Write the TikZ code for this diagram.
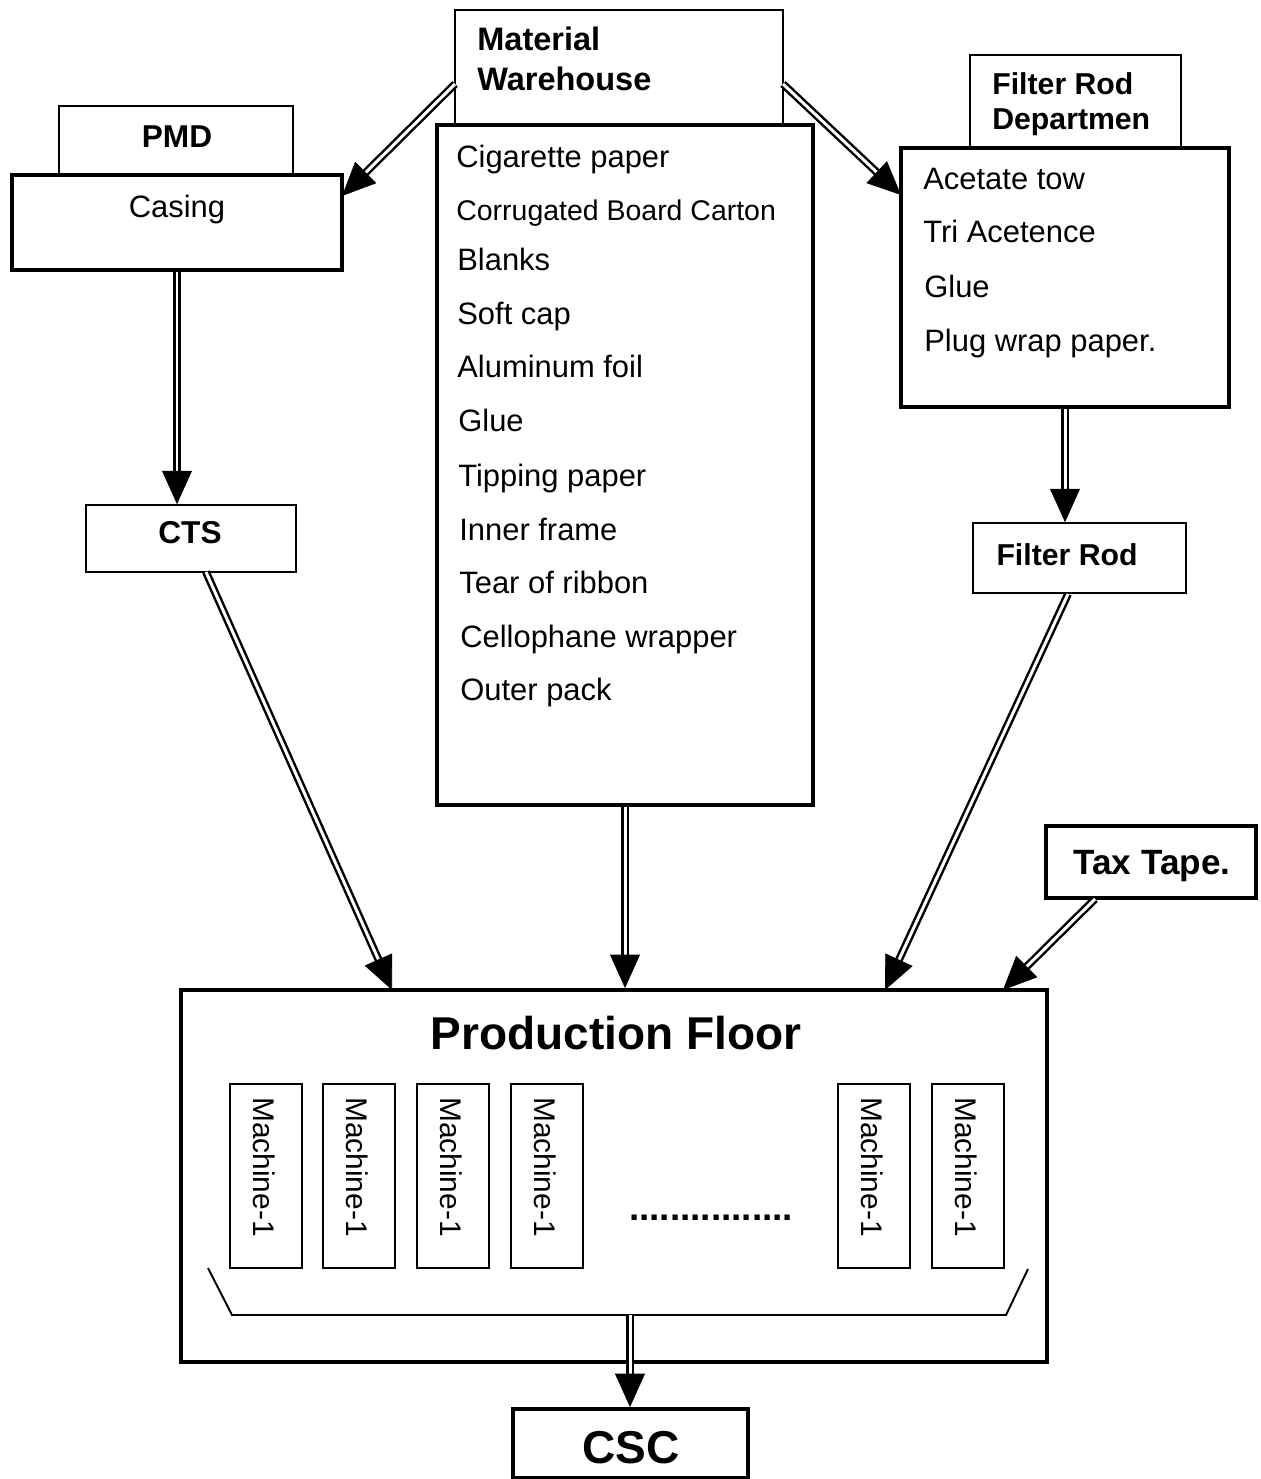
\documentclass[tikz,border=0pt]{standalone}
\usepackage{fontspec}
\setmainfont{Liberation Sans}
\usetikzlibrary{arrows.meta,calc,fit}
\newcommand\darrow[2]{%
  \draw[dshaft, shorten >=16pt] (#1) -- (#2);
  \draw[dhead] ($(#2)!19pt!(#1)$) -- (#2);}
\begin{document}
\begin{tikzpicture}[x=0.02cm,y=-0.02cm,
  thinbox/.style={draw, line width=0.9pt, inner sep=0pt, fill=white},
  thickbox/.style={draw, line width=2.2pt, inner sep=0pt, fill=white},
  mbox/.style={draw, line width=0.8pt, inner sep=0pt},
  item/.style={anchor=base west, inner sep=0pt, font=\fontsize{17.6}{20}\selectfont},
  small item/.style={item, font=\fontsize{16.2}{20}\selectfont},
  title/.style={anchor=base west, inner sep=0pt, font=\bfseries\fontsize{18.5}{20}\selectfont},
  ctitle/.style={anchor=base, inner sep=0pt, font=\bfseries\fontsize{18}{20}\selectfont},
  big/.style={anchor=base, inner sep=0pt, font=\bfseries\fontsize{26.2}{30}\selectfont},
  mtext/.style={rotate=-90, inner sep=0pt, font=\fontsize{17}{20}\selectfont},
  dshaft/.style={double, double distance=1.7pt, line width=1.4pt},
  dhead/.style={line width=0.4pt, -{Triangle[length=19pt,width=17pt]}},
  bracket/.style={line width=1.1pt}]
\useasboundingbox (0,0) rectangle (1260,1479);

% Material warehouse
\node[thinbox, fit={(455,10)(783,125)}] (mw) {};
\node[title] (mwt1) at (477,51) {Material};
\node[title] (mwt2) at (477,91) {Warehouse};
\node[thickbox, fit={(437,125)(813,805)}] (mlist) {};
\node[item] (i1) at (456,168) {Cigarette paper};
\node[small item] (i2) at (456,221) {Corrugated Board Carton};
\node[item] (i3) at (457,271) {Blanks};
\node[item] (i4) at (457,325) {Soft cap};
\node[item] (i5) at (457,378) {Aluminum foil};
\node[item] (i6) at (458,432) {Glue};
\node[item] (i7) at (458,486) {Tipping paper};
\node[item] (i8) at (459,540) {Inner frame};
\node[item] (i9) at (459,593) {Tear of ribbon};
\node[item] (i10) at (460,647) {Cellophane wrapper};
\node[item] (i11) at (460,700) {Outer pack};

% PMD
\node[thinbox, fit={(59,106)(293,175)}] (pmd) {};
\node[ctitle] (pmdt) at (177,148) {PMD};
\node[thickbox, fit={(12,175)(342,270)}] (casing) {};
\node[item, anchor=base] (casingt) at (177,218) {Casing};

% CTS
\node[thinbox, fit={(86,505)(296,572)}] (cts) {};
\node[ctitle] (ctst) at (190,543) {CTS};

% Filter rod department
\node[thinbox, fit={(970,55)(1181,148)}] (frd) {};
\node[title, font=\bfseries\fontsize{17.2}{20}\selectfont] (frdt1) at (992,95) {Filter Rod};
\node[title, font=\bfseries\fontsize{17.2}{20}\selectfont] (frdt2) at (992,130) {Departmen};
\node[thickbox, fit={(901,148)(1229,407)}] (flist) {};
\node[item] (f1) at (923,190) {Acetate tow};
\node[item] (f2) at (923,243) {Tri Acetence};
\node[item] (f3) at (924,298) {Glue};
\node[item] (f4) at (924,352) {Plug wrap paper.};

% Filter rod
\node[thinbox, fit={(973,523)(1186,593)}] (frod) {};
\node[ctitle, font=\bfseries\fontsize{17.2}{20}\selectfont] (frodt) at (1067,565) {Filter Rod};

% Tax tape
\node[thickbox, fit={(1046,826)(1256,898)}] (tax) {};
\node[ctitle, font=\bfseries\fontsize{20}{22}\selectfont] (taxt) at (1152,874) {Tax Tape.};

% Production floor
\node[thickbox, fit={(181,990)(1047,1362)}] (pf) {};
\node[big] (pft) at (616,1049) {Production Floor};
\foreach \n/\xa in {1/230,2/323,3/417,4/511,5/838,6/932}{
  \node[mbox, fit={(\xa,1084)(\xa+72,1268)}] (m\n) {};
  \node[mtext] (mt\n) at (\xa+34,1167) {Machine-1};
}
\node[anchor=base, inner sep=0pt, font=\bfseries\fontsize{21}{22}\selectfont] (dots) at (711,1220) {................};
\draw[bracket] (208,1268) -- (232,1315) coordinate (brl) -- (1006,1315) coordinate (brr) -- (1028,1269);
\coordinate (brk) at (630,1315);

% CSC
\node[thickbox, fit={(513,1409)(748,1478)}] (csc) {};
\node[big] (csct) at (631,1463) {CSC};

% arrows
\coordinate (mwl) at (455,84);
\coordinate (mwr) at (783,84);
\coordinate (casin) at (342,196);
\coordinate (flin) at (901,195);
\coordinate (ctsout) at (206,572);
\coordinate (pfa) at (392,990);
\coordinate (frout) at (1068,594);
\coordinate (pfb) at (885,990);
\coordinate (taxout) at (1095,899);
\coordinate (pfc) at (1003,990);

\darrow{mwl}{casin}
\darrow{mwr}{flin}
\darrow{casing.south}{casing.south |- cts.north}
\darrow{flist.south}{flist.south |- frod.north}
\darrow{ctsout}{pfa}
\darrow{mlist.south}{mlist.south |- pf.north}
\darrow{frout}{pfb}
\darrow{taxout}{pfc}
\darrow{brk}{brk |- csc.north}
\end{tikzpicture}
\end{document}
